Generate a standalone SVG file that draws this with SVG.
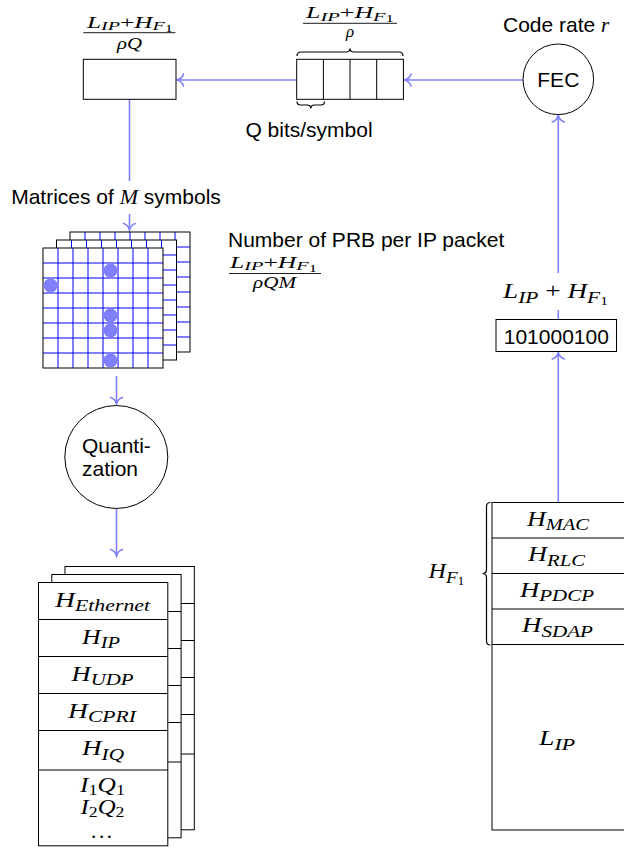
<svg xmlns="http://www.w3.org/2000/svg" width="624" height="853" viewBox="0 0 624 853">
<defs>
<style>
.sans{font-family:"Liberation Sans",Arial,sans-serif;font-size:21px;fill:#000}
.m{font-family:"Liberation Serif","Times New Roman",serif;font-style:italic;fill:#000}
.up{font-style:normal}
.box{fill:#fff;stroke:#000;stroke-width:1}
.conn{fill:none;stroke:#8080ff;stroke-width:1.6;marker-end:url(#ah)}
.gl{fill:none;stroke:#0000ff;stroke-width:1}
.brace{fill:none;stroke:#000;stroke-width:1.2}
.bar{stroke:#000;stroke-width:0.9}
.dot{fill:#8080ff}
.bg{fill:#fff}
</style>
<marker id="ah" viewBox="-8 -8 10 16" refX="0" refY="0" markerWidth="10" markerHeight="16" markerUnits="userSpaceOnUse" orient="auto" overflow="visible">
<path d="M-6.5,-6 C-5.5,-2.5 -2.2,-0.6 0,0 C-2.2,0.6 -5.5,2.5 -6.5,6" fill="none" stroke="#8080ff" stroke-width="1.6" stroke-linecap="round"/>
</marker>
<g id="matLayer">
<rect x="0" y="0" width="120" height="120" fill="#fff"/>
<path class="gl" d="M15,0V120M30,0V120M45,0V120M60,0V120M75,0V120M90,0V120M105,0V120M0,15H120M0,30H120M0,45H120M0,60H120M0,75H120M0,90H120M0,105H120"/>
<rect x="0" y="0" width="120" height="120" fill="none" stroke="#000" stroke-width="1"/>
</g>
<g id="pktLayer">
<rect class="box" x="0" y="0" width="129.3" height="263.3"/>
<path d="M0,37H129.3M0,74H129.3M0,111H129.3M0,148H129.3M0,187.5H129.3" stroke="#000" stroke-width="1"/>
</g>
</defs>

<rect width="624" height="853" fill="#fff"/>

<g id="connectors">
<path class="conn" d="M523,80H404.5"/>
<path class="conn" d="M296.7,80H177"/>
<path class="conn" d="M129.5,99.3V230"/>
<path class="conn" d="M116.5,376V404"/>
<path class="conn" d="M116.5,508.5V556"/>
<path class="conn" d="M558.3,502.5V352.5"/>
<path class="conn" d="M558.3,319.5V115.5"/>
</g>

<g id="symbol-box">
<rect class="box" x="83.3" y="59.3" width="92.7" height="40"/>
<text class="m" x="87" y="27.5" font-size="17" textLength="86" lengthAdjust="spacingAndGlyphs">L<tspan font-size="13.5" dy="2.5">IP</tspan><tspan class="up" dy="-2.5">+</tspan>H<tspan font-size="13.5" dy="2.5">F</tspan><tspan class="up" font-size="11" dy="1.5">1</tspan></text>
<line class="bar" x1="83.3" y1="32.7" x2="175.5" y2="32.7"/>
<text class="m" x="117" y="48.5" font-size="17" textLength="25" lengthAdjust="spacingAndGlyphs">ρQ</text>
</g>

<g id="bit-buffer">
<rect class="box" x="296.7" y="59.3" width="106.7" height="40"/>
<path d="M323.4,59.3V99.3M350,59.3V99.3M376.7,59.3V99.3" stroke="#000" stroke-width="1"/>
<path class="brace" d="M297,56 Q297,52 301,52 L346,52 Q350,52 350,48.5 Q350,52 354,52 L399,52 Q403,52 403,56"/>
<text class="m" x="306" y="18" font-size="17" textLength="88" lengthAdjust="spacingAndGlyphs">L<tspan font-size="13.5" dy="2.5">IP</tspan><tspan class="up" dy="-2.5">+</tspan>H<tspan font-size="13.5" dy="2.5">F</tspan><tspan class="up" font-size="11" dy="1.5">1</tspan></text>
<line class="bar" x1="303" y1="23.3" x2="397" y2="23.3"/>
<text class="m" x="350" y="37" font-size="17" text-anchor="middle">ρ</text>
<path class="brace" d="M297,101.5 Q297,105 300.5,105 L307,105 Q310.8,105 310.8,108.5 Q310.8,105 314.5,105 L321,105 Q324.5,105 324.5,101.5"/>
<text class="sans" x="309" y="137" text-anchor="middle">Q bits/symbol</text>
</g>

<g id="fec">
<circle cx="558.3" cy="79.3" r="35.3" fill="#fff" stroke="#000" stroke-width="1"/>
<text class="sans" x="558.3" y="87" text-anchor="middle">FEC</text>
<text class="sans" x="503" y="32">Code rate <tspan class="m">r</tspan></text>
</g>

<g id="bits-box">
<rect class="box" x="496" y="319.5" width="120.5" height="32"/>
<text class="sans" x="556.3" y="343.5" text-anchor="middle">101000100</text>
</g>

<g id="label-bits-length">
<rect class="bg" x="549" y="273" width="19" height="37"/>
<text class="m" x="503" y="298" font-size="21" textLength="105" lengthAdjust="spacingAndGlyphs">L<tspan font-size="16.5" dy="4.5">IP</tspan><tspan class="up" dy="-4.5"> + </tspan>H<tspan font-size="16.5" dy="4.5">F</tspan><tspan class="up" font-size="12" dy="2.5">1</tspan></text>
</g>

<g id="label-matrices">
<rect class="bg" x="121" y="181" width="17" height="33"/>
<text class="sans" x="116" y="203.5" text-anchor="middle">Matrices of <tspan class="m" font-size="22">M</tspan> symbols</text>
</g>

<g id="matrices">
<use href="#matLayer" x="70" y="232"/>
<use href="#matLayer" x="56.5" y="240"/>
<use href="#matLayer" x="43" y="248"/>
<circle class="dot" cx="50.5" cy="285.5" r="7"/>
<circle class="dot" cx="110.5" cy="270.5" r="7"/>
<circle class="dot" cx="110.5" cy="315.5" r="7"/>
<circle class="dot" cx="110.5" cy="330.5" r="7"/>
<circle class="dot" cx="110.5" cy="360.5" r="7"/>
</g>

<g id="label-prb">
<text class="sans" x="228" y="247">Number of PRB per IP packet</text>
<text class="m" x="230" y="267.5" font-size="17" textLength="87" lengthAdjust="spacingAndGlyphs">L<tspan font-size="13.5" dy="2.5">IP</tspan><tspan class="up" dy="-2.5">+</tspan>H<tspan font-size="13.5" dy="2.5">F</tspan><tspan class="up" font-size="11" dy="1.5">1</tspan></text>
<line class="bar" x1="229" y1="273.5" x2="321" y2="273.5"/>
<text class="m" x="253" y="288" font-size="17" textLength="43" lengthAdjust="spacingAndGlyphs">ρQM</text>
</g>

<g id="quantization">
<circle cx="116.3" cy="457" r="51.5" fill="#fff" stroke="#000" stroke-width="1"/>
<text class="sans" x="82" y="453.3">Quanti-</text>
<text class="sans" x="82" y="476">zation</text>
</g>

<g id="fronthaul-packets">
<use href="#pktLayer" x="65" y="566.5"/>
<use href="#pktLayer" x="51.8" y="574.5"/>
<use href="#pktLayer" x="38.5" y="582.5"/>
<text class="m" x="55" y="606.5" font-size="21" textLength="95" lengthAdjust="spacingAndGlyphs">H<tspan font-size="16.5" dy="4.5">Ethernet</tspan></text>
<text class="m" x="82" y="643.5" font-size="21" textLength="38" lengthAdjust="spacingAndGlyphs">H<tspan font-size="16.5" dy="4.5">IP</tspan></text>
<text class="m" x="71.5" y="680.5" font-size="21" textLength="62" lengthAdjust="spacingAndGlyphs">H<tspan font-size="16.5" dy="4.5">UDP</tspan></text>
<text class="m" x="68" y="717.5" font-size="21" textLength="68" lengthAdjust="spacingAndGlyphs">H<tspan font-size="16.5" dy="4.5">CPRI</tspan></text>
<text class="m" x="82" y="755" font-size="21" textLength="42" lengthAdjust="spacingAndGlyphs">H<tspan font-size="16.5" dy="4.5">IQ</tspan></text>
<text class="m" x="80" y="792" font-size="21" textLength="45" lengthAdjust="spacingAndGlyphs">I<tspan class="up" font-size="15" dy="2.5">1</tspan><tspan dy="-2.5">Q</tspan><tspan class="up" font-size="15" dy="2.5">1</tspan></text>
<text class="m" x="80.5" y="814" font-size="21" textLength="44" lengthAdjust="spacingAndGlyphs">I<tspan class="up" font-size="15" dy="2.5">2</tspan><tspan dy="-2.5">Q</tspan><tspan class="up" font-size="15" dy="2.5">2</tspan></text>
<text class="m up" x="91" y="838" font-size="21" textLength="21" lengthAdjust="spacing">...</text>
</g>

<g id="protocol-stack">
<rect class="box" x="492" y="502.5" width="134" height="327.5"/>
<path d="M492,538H626M492,573.5H626M492,609H626M492,644.5H626" stroke="#000" stroke-width="1"/>
<text class="m" x="527" y="525.5" font-size="21" textLength="62" lengthAdjust="spacingAndGlyphs">H<tspan font-size="16.5" dy="4.5">MAC</tspan></text>
<text class="m" x="528" y="561" font-size="21" textLength="57" lengthAdjust="spacingAndGlyphs">H<tspan font-size="16.5" dy="4.5">RLC</tspan></text>
<text class="m" x="520" y="596.5" font-size="21" textLength="74" lengthAdjust="spacingAndGlyphs">H<tspan font-size="16.5" dy="4.5">PDCP</tspan></text>
<text class="m" x="522" y="632" font-size="21" textLength="71" lengthAdjust="spacingAndGlyphs">H<tspan font-size="16.5" dy="4.5">SDAP</tspan></text>
<text class="m" x="539" y="745" font-size="21" textLength="36" lengthAdjust="spacingAndGlyphs">L<tspan font-size="16.5" dy="4.5">IP</tspan></text>
<path class="brace" d="M490.5,502.5 Q486.5,502.5 486.5,506.5 L486.5,569.5 Q486.5,573.5 482.5,573.5 Q486.5,573.5 486.5,577.5 L486.5,641 Q486.5,645 490.5,645"/>
<text class="m" x="428.5" y="578" font-size="21" textLength="36" lengthAdjust="spacingAndGlyphs">H<tspan font-size="16.5" dy="4.5">F</tspan><tspan class="up" font-size="12" dy="2.5">1</tspan></text>
</g>
</svg>
